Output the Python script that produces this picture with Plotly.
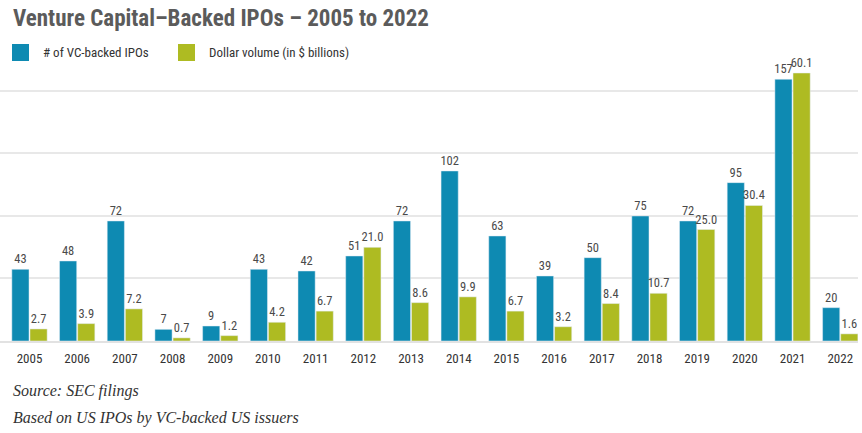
import plotly.graph_objects as go

years = ["2005", "2006", "2007", "2008", "2009", "2010", "2011", "2012", "2013",
         "2014", "2015", "2016", "2017", "2018", "2019", "2020", "2021", "2022"]
ipo_counts = [43, 48, 72, 7, 9, 43, 42, 51, 72, 102, 63, 39, 50, 75, 72, 95, 157, 20]
dollar_volume = [2.7, 3.9, 7.2, 0.7, 1.2, 4.2, 6.7, 21.0, 8.6, 9.9, 6.7, 3.2, 8.4,
                 10.7, 25.0, 30.4, 60.1, 1.6]

series_names = ["# of VC-backed IPOs", "Dollar volume (in $ billions)"]
title_text = "Venture Capital\u2013Backed IPOs \u2013 2005 to 2022"
notes = ["Source: SEC filings", "Based on US IPOs by VC-backed US issuers"]

BLUE = "#0E8AB2"
GREEN = "#AEBB22"
NARROW = "Roboto Condensed, Liberation Sans Narrow, sans-serif"
SERIF = "Liberation Serif, DejaVu Serif, serif"

W, H = 862, 433
PLOT_TOP, PLOT_BOTTOM = 60, 341
PLOT_RIGHT = 858
ph = PLOT_BOTTOM - PLOT_TOP
unit = 47.69
x0 = -29.5 / unit
x1 = x0 + PLOT_RIGHT / unit


def py(pix):
    return (PLOT_BOTTOM - pix) / ph


def px(pix):
    return pix / PLOT_RIGHT


label_font = dict(family=NARROW, size=12.5, color="#4a4a4a")

fig = go.Figure()
fig.add_trace(go.Bar(
    x=years, y=ipo_counts, name=series_names[0], marker_color=BLUE,
    width=0.36, offset=-0.37, yaxis="y",
    text=[str(v) for v in ipo_counts], textposition="outside",
    textfont=label_font, constraintext="none", textangle=0,
    cliponaxis=False, showlegend=False,
))
fig.add_trace(go.Bar(
    x=years, y=dollar_volume, name=series_names[1], marker_color=GREEN,
    width=0.36, offset=0.01, yaxis="y2",
    text=[f"{v:.1f}" for v in dollar_volume], textposition="outside",
    textfont=label_font, constraintext="none", textangle=0,
    cliponaxis=False, showlegend=False,
))

fig.update_layout(
    width=W, height=H,
    margin=dict(l=0, r=W - PLOT_RIGHT, t=PLOT_TOP, b=H - PLOT_BOTTOM),
    paper_bgcolor="white", plot_bgcolor="white",
    barmode="overlay",
    xaxis=dict(
        type="category", range=[x0, x1],
        showgrid=False, showline=True, linecolor="#e2e2e2", linewidth=2,
        ticks="", ticklabelstandoff=4,
        tickfont=dict(family=NARROW, size=13, color="#333333"),
    ),
    yaxis=dict(
        range=[0, ph / 1.667], tickvals=[37.5, 75, 112.5, 150],
        showticklabels=False, showgrid=True, gridcolor="#e8e8e8", gridwidth=2,
        zeroline=False, showline=False,
    ),
    yaxis2=dict(
        range=[0, ph / 4.459], overlaying="y", side="right",
        showticklabels=False, showgrid=False, zeroline=False, showline=False,
    ),
    showlegend=False,
)

annotations = [
    dict(text=f"<b>{title_text}</b>", x=px(11), y=py(18), xref="paper", yref="paper",
         xanchor="left", yanchor="middle", showarrow=False,
         font=dict(family=NARROW, size=23, color="#5b5b5b")),
    dict(text=series_names[0], x=px(41), y=py(52), xref="paper", yref="paper",
         xanchor="left", yanchor="middle", showarrow=False,
         font=dict(family=NARROW, size=13, color="#333333")),
    dict(text=series_names[1], x=px(207), y=py(52), xref="paper", yref="paper",
         xanchor="left", yanchor="middle", showarrow=False,
         font=dict(family=NARROW, size=13, color="#333333")),
    dict(text=f"<i>{notes[0]}</i>", x=px(11), y=py(391), xref="paper", yref="paper",
         xanchor="left", yanchor="middle", showarrow=False,
         font=dict(family=SERIF, size=16, color="#333333")),
    dict(text=f"<i>{notes[1]}</i>", x=px(11), y=py(418), xref="paper", yref="paper",
         xanchor="left", yanchor="middle", showarrow=False,
         font=dict(family=SERIF, size=16, color="#333333")),
]
fig.update_layout(annotations=annotations)

shapes = [
    dict(type="rect", xref="paper", yref="paper", x0=px(12), x1=px(29), y0=py(61), y1=py(44),
         fillcolor=BLUE, line=dict(width=0)),
    dict(type="rect", xref="paper", yref="paper", x0=px(178), x1=px(195), y0=py(61), y1=py(44),
         fillcolor=GREEN, line=dict(width=0)),
]
fig.update_layout(shapes=shapes)

fig.write_html("out.html", config={"displayModeBar": False},
               post_script="document.body.style.margin='0';")
